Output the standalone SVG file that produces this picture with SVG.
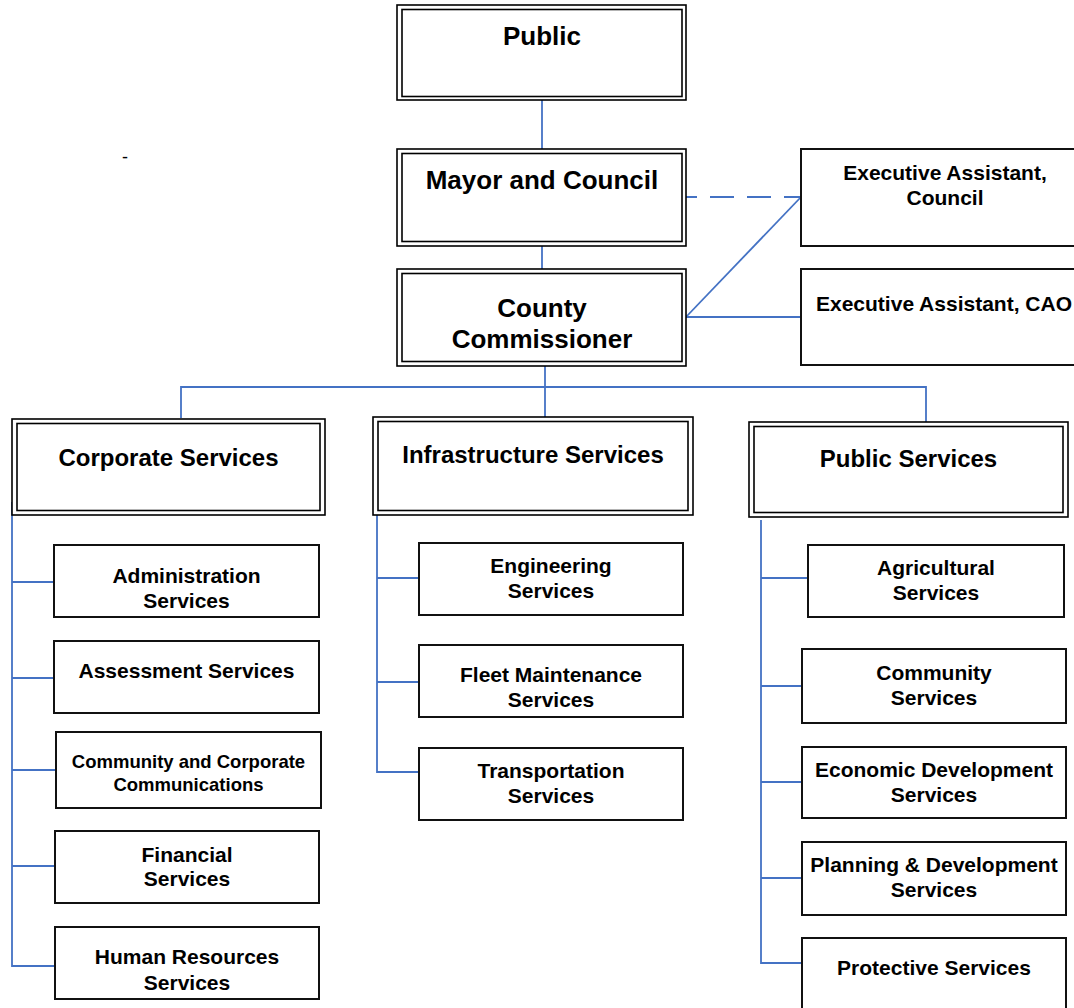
<svg xmlns="http://www.w3.org/2000/svg" width="1074" height="1008" viewBox="0 0 1074 1008">
<style>
.bg{fill:#fff}
.o{fill:#fff;stroke:#000;stroke-width:1.6}
.i{fill:none;stroke:#000;stroke-width:1.6}
.s{fill:#fff;stroke:#111;stroke-width:2}
.c{fill:none;stroke:#4472C4;stroke-width:1.8}
.d{fill:none;stroke:#4472C4;stroke-width:1.8;stroke-dasharray:24 13;stroke-dashoffset:13}
text{font-family:"Liberation Sans",Arial,sans-serif;font-weight:bold;fill:#000;text-anchor:middle}
.t26{font-size:26px}
.t24{font-size:24px}
.t21{font-size:21px}
.t18{font-size:18.5px}
</style>
<rect class="bg" x="0" y="0" width="1074" height="1008"/>
<text x="125" y="163" style="font-size:18px;font-weight:normal">-</text>

<g id="connectors">
<line class="c" x1="542" y1="100" x2="542" y2="149"/>
<line class="c" x1="542" y1="246" x2="542" y2="269"/>
<line class="d" x1="686" y1="197" x2="801" y2="197"/>
<line class="c" x1="686" y1="317" x2="801" y2="197"/>
<line class="c" x1="686" y1="317" x2="801" y2="317"/>
<line class="c" x1="545" y1="366" x2="545" y2="417"/>
<polyline class="c" points="181,418 181,387 926,387 926,422"/>
<polyline class="c" points="12,502 12,966 54,966"/>
<line class="c" x1="12" y1="582" x2="54" y2="582"/>
<line class="c" x1="12" y1="678" x2="54" y2="678"/>
<line class="c" x1="12" y1="770" x2="56" y2="770"/>
<line class="c" x1="12" y1="866" x2="55" y2="866"/>
<polyline class="c" points="377,515 377,772 419,772"/>
<line class="c" x1="377" y1="578" x2="419" y2="578"/>
<line class="c" x1="377" y1="682" x2="419" y2="682"/>
<polyline class="c" points="761,520 761,963 802,963"/>
<line class="c" x1="761" y1="578" x2="808" y2="578"/>
<line class="c" x1="761" y1="686" x2="802" y2="686"/>
<line class="c" x1="761" y1="782" x2="802" y2="782"/>
<line class="c" x1="761" y1="878" x2="802" y2="878"/>
</g>

<g id="public">
<rect class="o" x="397" y="5" width="289" height="95"/>
<rect class="i" x="402" y="9.5" width="280" height="87"/>
<text class="t26" x="542" y="45">Public</text>
</g>
<g id="mayor">
<rect class="o" x="397" y="149" width="289" height="97"/>
<rect class="i" x="402" y="153.5" width="280" height="88"/>
<text class="t26" x="542" y="189">Mayor and Council</text>
</g>
<g id="county">
<rect class="o" x="397" y="269" width="289" height="97"/>
<rect class="i" x="402" y="273.5" width="280" height="88"/>
<text class="t26" x="542" y="317">County</text>
<text class="t26" x="542" y="348">Commissioner</text>
</g>
<g id="ea-council">
<rect class="s" x="801" y="149" width="290" height="97"/>
<text class="t21" x="945" y="180">Executive Assistant,</text>
<text class="t21" x="945" y="205">Council</text>
</g>
<g id="ea-cao">
<rect class="s" x="801" y="269" width="290" height="96"/>
<text class="t21" x="944" y="311">Executive Assistant, CAO</text>
</g>

<g id="corporate">
<rect class="o" x="12" y="419" width="313" height="96"/>
<rect class="i" x="17" y="423.5" width="303" height="87"/>
<text class="t24" x="168.5" y="466">Corporate Services</text>
</g>
<g id="infrastructure">
<rect class="o" x="373" y="417" width="320" height="98"/>
<rect class="i" x="378" y="421.5" width="310" height="89"/>
<text class="t24" x="533" y="463">Infrastructure Services</text>
</g>
<g id="publicservices">
<rect class="o" x="749" y="422" width="319" height="95"/>
<rect class="i" x="754" y="426.5" width="309" height="86"/>
<text class="t24" x="908.5" y="467">Public Services</text>
</g>

<g id="admin">
<rect class="s" x="54" y="545" width="265" height="72"/>
<text class="t21" x="186.5" y="583">Administration</text>
<text class="t21" x="186.5" y="608">Services</text>
</g>
<g id="assessment">
<rect class="s" x="54" y="641" width="265" height="72"/>
<text class="t21" x="186.5" y="678">Assessment Services</text>
</g>
<g id="communications">
<rect class="s" x="56" y="732" width="265" height="76"/>
<text class="t18" x="188.5" y="768">Community and Corporate</text>
<text class="t18" x="188.5" y="791">Communications</text>
</g>
<g id="financial">
<rect class="s" x="55" y="831" width="264" height="72"/>
<text class="t21" x="187" y="862">Financial</text>
<text class="t21" x="187" y="886">Services</text>
</g>
<g id="hr">
<rect class="s" x="55" y="927" width="264" height="72"/>
<text class="t21" x="187" y="964">Human Resources</text>
<text class="t21" x="187" y="990">Services</text>
</g>

<g id="engineering">
<rect class="s" x="419" y="543" width="264" height="72"/>
<text class="t21" x="551" y="573">Engineering</text>
<text class="t21" x="551" y="598">Services</text>
</g>
<g id="fleet">
<rect class="s" x="419" y="645" width="264" height="72"/>
<text class="t21" x="551" y="682">Fleet Maintenance</text>
<text class="t21" x="551" y="707">Services</text>
</g>
<g id="transportation">
<rect class="s" x="419" y="748" width="264" height="72"/>
<text class="t21" x="551" y="778">Transportation</text>
<text class="t21" x="551" y="803">Services</text>
</g>

<g id="agricultural">
<rect class="s" x="808" y="545" width="256" height="72"/>
<text class="t21" x="936" y="575">Agricultural</text>
<text class="t21" x="936" y="600">Services</text>
</g>
<g id="community">
<rect class="s" x="802" y="649" width="264" height="74"/>
<text class="t21" x="934" y="680">Community</text>
<text class="t21" x="934" y="705">Services</text>
</g>
<g id="economic">
<rect class="s" x="802" y="747" width="264" height="71"/>
<text class="t21" x="934" y="777">Economic Development</text>
<text class="t21" x="934" y="802">Services</text>
</g>
<g id="planning">
<rect class="s" x="802" y="842" width="264" height="73"/>
<text class="t21" x="934" y="872">Planning &amp; Development</text>
<text class="t21" x="934" y="897">Services</text>
</g>
<g id="protective">
<rect class="s" x="802" y="938" width="264" height="80"/>
<text class="t21" x="934" y="975">Protective Services</text>
</g>
</svg>
